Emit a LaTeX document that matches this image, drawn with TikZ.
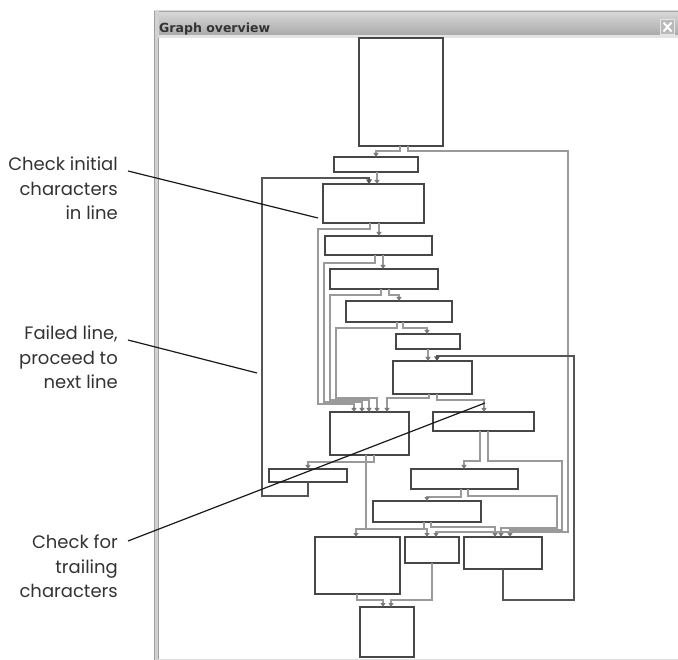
\documentclass[tikz,border=0pt]{standalone}
\usepackage{fontspec}
\setmainfont{Poppins}
\newfontfamily\titlefont{DejaVu Sans}
\usetikzlibrary{arrows.meta}
\definecolor{boxc}{HTML}{474747}
\definecolor{edgec}{HTML}{9A9A9A}
\definecolor{tipc}{HTML}{7A7A7A}
\definecolor{backc}{HTML}{555555}
\newcommand\gbox[5]{\node[box, minimum width={(#4-#2)*1pt}, minimum height={(#5-#3)*1pt}] (#1) at (#2,#3) {};}
\begin{document}
\begin{tikzpicture}[x=1pt,y=-1pt,
  box/.style={draw=boxc, line width=1.4pt, fill=white, inner sep=0pt, outer sep=0pt, anchor=north west},
  edge/.style={draw=edgec, line width=1.2pt, -{Triangle[length=4pt,width=5pt,color=tipc]}},
  back/.style={draw=backc, line width=2.6pt, -{Triangle[length=4.5pt,width=5.5pt]}},
  leader/.style={draw=black!90, line width=1.2pt},
  note/.style={align=right, anchor=north east, inner sep=0pt, text=black!80, font=\fontsize{18}{24.5}\selectfont}]
\useasboundingbox (0,0) rectangle (678,660);
% window frame
\fill[white] (154,11) rectangle (678,660);
\shade[top color=gray!30, bottom color=gray!68] (154,11) rectangle (678,36);
\fill[gray!22] (154,35.5) rectangle (678,38);
\draw[gray!70, line width=0.8pt] (154,11) -- (678,11);
\fill[gray!35] (154,11) rectangle (158.5,660);
\draw[gray!75, line width=0.9pt] (154.4,11) -- (154.4,660);
\draw[gray!75, line width=0.9pt] (158.4,38) -- (158.4,660);
\draw[gray!25, line width=1pt] (158,659) -- (678,659);
\node[anchor=base west, inner sep=0pt, font=\titlefont\bfseries\fontsize{12.5}{14}\selectfont, text=black!80] (title) at (159,32.5) {Graph overview};
\node[draw=gray!20, fill=gray!55, line width=1pt, minimum width=14pt, minimum height=15pt, inner sep=0pt, anchor=north west] (close) at (660,19) {};
\draw[white, line width=2pt] ([xshift=3.5pt,yshift=-3.5pt]close.north west) -- ([xshift=-3.5pt,yshift=3.5pt]close.south east);
\draw[white, line width=2pt] ([xshift=-3.5pt,yshift=-3.5pt]close.north east) -- ([xshift=3.5pt,yshift=3.5pt]close.south west);
% boxes
\gbox{B1}{359}{38}{443}{146}
\gbox{B2}{334}{157}{418}{172}
\gbox{B3}{323}{184}{424}{223}
\gbox{B4}{325}{236}{432}{255}
\gbox{B5}{330}{269}{438}{289}
\gbox{B6}{346}{301}{452}{322}
\gbox{B7}{396}{334}{460}{349}
\gbox{B8}{393}{361}{472}{394}
\gbox{B9}{330}{412}{409}{455}
\gbox{B10}{433}{412}{534}{431}
\gbox{B11}{269}{469}{347}{482}
\gbox{B12}{411}{469}{518}{489}
\gbox{B13}{373}{501}{481}{522}
\gbox{B14}{315}{537}{400}{594}
\gbox{B15}{405}{537}{459}{563}
\gbox{B16}{464}{537}{542}{569}
\gbox{B17}{360}{607}{414}{657}
% edges
\draw[edge] (400,0 |- B1.south) -- (400,151) -- (376,151) -- (376,0 |- B2.north);
\draw[edge] (408,0 |- B1.south) -- (408,151) -- (568,151) -- (568,532) -- (436,532) -- (436,0 |- B15.north);
\draw[edge] (377,0 |- B2.south) -- (377,0 |- B3.north);
\draw[edge] (379,0 |- B3.south) -- (379,0 |- B4.north);
\draw[edge] (370,0 |- B3.south) -- (370,229) -- (318,229) -- (318,404) -- (354,404) -- (354,0 |- B9.north);
\draw[edge] (383,0 |- B4.south) -- (383,0 |- B5.north);
\draw[edge] (375,0 |- B4.south) -- (375,263) -- (324,263) -- (324,402) -- (362,402) -- (362,0 |- B9.north);
\draw[edge] (389,0 |- B5.south) -- (389,295) -- (399,295) -- (399,0 |- B6.north);
\draw[edge] (381,0 |- B5.south) -- (381,295) -- (330,295) -- (330,400) -- (369,400) -- (369,0 |- B9.north);
\draw[edge] (403,0 |- B6.south) -- (403,328) -- (427,328) -- (427,0 |- B7.north);
\draw[edge] (397,0 |- B6.south) -- (397,328) -- (336,328) -- (336,398) -- (377,398) -- (377,0 |- B9.north);
\draw[edge] (428,0 |- B7.south) -- (428,0 |- B8.north);
\draw[edge] (429,0 |- B8.south) -- (429,398) -- (387,398) -- (387,0 |- B9.north);
\draw[edge] (437,0 |- B8.south) -- (437,400) -- (484,400) -- (484,0 |- B10.north);
\draw[edge] (374,0 |- B9.south) -- (374,462) -- (308,462) -- (308,0 |- B11.north);
\draw[edge] (366,0 |- B9.south) -- (366,529) -- (427,529) -- (427,0 |- B15.north);
\draw[edge] (480,0 |- B10.south) -- (480,461) -- (464,461) -- (464,0 |- B12.north);
\draw[edge] (488,0 |- B10.south) -- (488,461) -- (562,461) -- (562,530) -- (510,530) -- (510,0 |- B16.north);
\draw[edge] (461,0 |- B12.south) -- (461,497) -- (427,497) -- (427,0 |- B13.north);
\draw[edge] (468,0 |- B12.south) -- (468,496) -- (557,496) -- (557,528) -- (501,528) -- (501,0 |- B16.north);
\draw[edge] (424,0 |- B13.south) -- (424,529) -- (356,529) -- (356,0 |- B14.north);
\draw[edge] (431,0 |- B13.south) -- (431,527) -- (495,527) -- (495,0 |- B16.north);
\draw[edge] (357,0 |- B14.south) -- (357,600) -- (383,600) -- (383,0 |- B17.north);
\draw[edge] (432,0 |- B15.south) -- (432,600) -- (391,600) -- (391,0 |- B17.north);
% back edges
\draw[back] (308,0 |- B11.south) -- (308,496) -- (262,496) -- (262,178) -- (369,178) -- (369,0 |- B3.north);
\draw[back] (503,0 |- B16.south) -- (503,600) -- (574,600) -- (574,356) -- (437,356) -- (437,0 |- B8.north);
% annotations
\node[note] (n1) at (118,157) {Check initial\\characters\\in line};
\node[note] (n2) at (118,326) {Failed line,\\proceed to\\next line};
\node[note] (n3) at (118,535) {Check for\\trailing\\characters};
\coordinate (p1) at (318,218);
\coordinate (p2) at (257,373);
\coordinate (p3) at (485,403);
\draw[leader] (128,171) -- (p1);
\draw[leader] (128,340) -- (p2);
\draw[leader] (128,541) -- (p3);
\end{tikzpicture}
\end{document}
